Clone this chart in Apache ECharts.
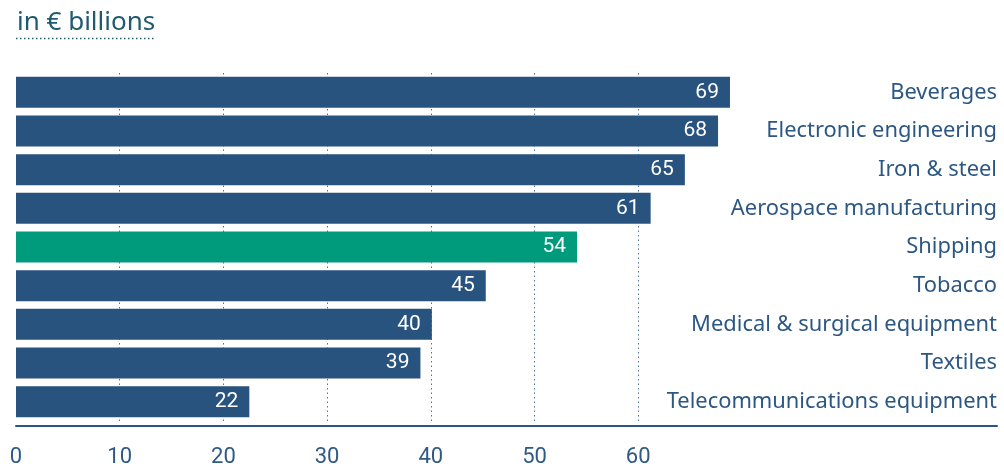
<!DOCTYPE html>
<html>
<head>
<meta charset="utf-8">
<script src="https://cdn.jsdelivr.net/npm/echarts@6/dist/echarts.min.js"></script>
<style>html,body{margin:0;padding:0;background:#fff}#c{width:1004px;height:470px}</style>
</head>
<body>
<div id="c"></div>
<script>
const categories = ['Beverages','Electronic engineering','Iron & steel','Aerospace manufacturing','Shipping','Tobacco','Medical & surgical equipment','Textiles','Telecommunications equipment'];
const values = [68.85, 67.7, 64.5, 61.2, 54.1, 45.3, 40.1, 39.0, 22.5];
const labels = ['69','68','65','61','54','45','40','39','22'];
const highlight = 'Shipping';
const tickLabels = [0,10,20,30,40,50,60];

const BLUE = '#29537f', GREEN = '#009a7c';
const chart = echarts.init(document.getElementById('c'));
const gridColors = tickLabels.map((t,i)=> i===0 ? 'rgba(0,0,0,0)' : '#4f739c');
for (let i=0;i<4;i++) gridColors.push('rgba(0,0,0,0)');
chart.setOption({
  animation:false,
  title:{text:'in € billions', left:12, top:5, textStyle:{fontFamily:'Noto Sans', fontSize:26, fontWeight:'normal', color:'#1f5a6e'}},
  graphic:[{type:'line', shape:{x1:16,y1:38.5,x2:155,y2:38.5}, style:{stroke:'#1f5a6e', lineWidth:1.5, lineDash:[1.5,2.5]}}],
  grid:{left:16, right:7, top:73, bottom:49, containLabel:false},
  xAxis:{type:'value', min:0, max:94.6, interval:10, offset:5,
    axisLine:{show:true, lineStyle:{color:'#2b5582', width:2}},
    axisTick:{show:false},
    axisLabel:{margin:20, fontFamily:'Roboto', fontSize:22, color:'#2f5a86',
      formatter:v=> tickLabels.indexOf(v)>=0 ? String(v) : '', showMaxLabel:false},
    splitLine:{show:true, lineStyle:{type:[1.5,3], width:1, color:gridColors}}
  },
  yAxis:{type:'category', data:categories, inverse:true, position:'right',
    axisLine:{show:false}, axisTick:{show:false},
    axisLabel:{inside:true, margin:0, fontFamily:'Noto Sans', fontSize:21.9, color:'#2c5784', align:'right'}
  },
  series:[{type:'bar', barCategoryGap:'20%',
    data: values.map((v,i)=>({value:v, itemStyle:{color: categories[i]===highlight?GREEN:BLUE}})),
    label:{show:true, position:'insideRight', distance:11, color:'#fff', fontFamily:'Roboto', fontSize:21,
      formatter:p=>labels[p.dataIndex]}
  }]
});
</script>
</body>
</html>
